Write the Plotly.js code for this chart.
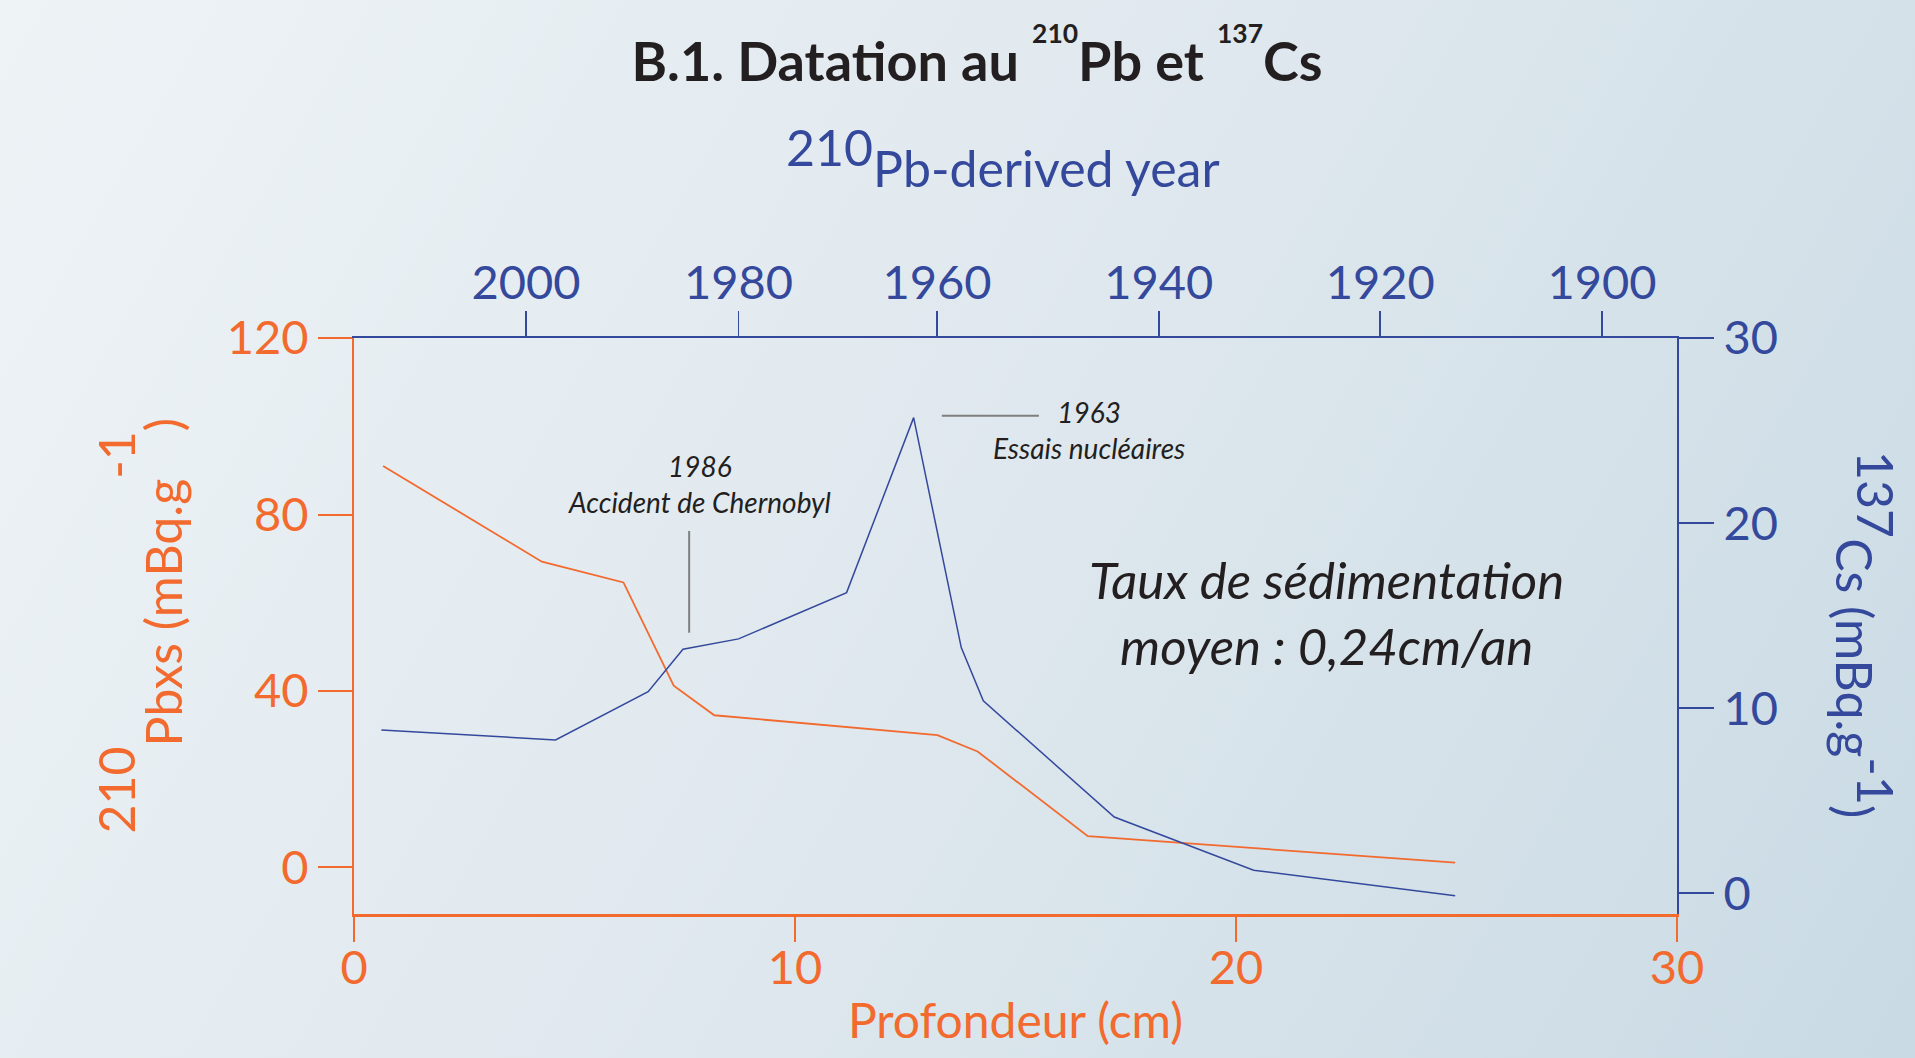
<!DOCTYPE html>
<html>
<head>
<meta charset="utf-8">
<script src="https://cdn.plot.ly/plotly-3.0.1.min.js"></script>
<style>
  html, body { margin: 0; padding: 0; }
  body {
    width: 1915px; height: 1058px; overflow: hidden;
    background: linear-gradient(120deg, #EEF3F6 0%, #DFE8EE 50%, #C9DAE4 100%);
  }
  #chart { width: 1915px; height: 1058px; }
</style>
</head>
<body>
<div id="chart"></div>
<script>
// ---- data ----
// 210Pb excess activity vs depth
const depthPb = [0.66, 4.26, 6.11, 7.25, 8.17, 13.23, 14.14, 16.64, 24.97];
const pb210   = [91.0, 69.3, 64.6, 41.2, 34.5, 30.0, 26.3, 7.1, 1.1];

// 137Cs activity vs depth
const depthCs = [0.62, 4.57, 6.67, 7.46, 8.72, 11.17, 12.69, 13.77, 14.27, 17.24, 20.40, 24.97];
const cs137   = [8.83, 8.29, 10.90, 13.19, 13.75, 16.25, 25.70, 13.28, 10.40, 4.13, 1.25, -0.12];

// 210Pb-derived years (top axis) and their depth positions
const yearTicks = ['2000', '1980', '1960', '1940', '1920', '1900'];
const yearDepth = [3.90, 8.72, 13.22, 18.25, 23.27, 28.30];

// bottom / left / right tick values
const depthTicks = [0, 10, 20, 30];
const pbTicks = [0, 40, 80, 120];
const csTicks = [0, 10, 20, 30];

// event markers
const chernobylDepth = 7.60;
const bombLineDepth = [13.33, 15.53];

const ORANGE = '#F26A2E';
const BLUE = '#34489C';
const DARK = '#231F20';
const FONT = 'Lato, "Open Sans", sans-serif';

const bigSup = (t) => '<span style="font-size:111px"><sup><span style="font-size:50px">' + t + '</span></sup></span>';
const sameSup = (t) => '<sup><span style="font-size:50px">' + t + '</span></sup>';

const traces = [
  {
    x: depthPb, y: pb210, xaxis: 'x', yaxis: 'y', type: 'scatter', mode: 'lines',
    line: { color: ORANGE, width: 1.8 }, name: '210Pbxs', hoverinfo: 'skip'
  },
  {
    x: depthCs, y: cs137, xaxis: 'x', yaxis: 'y2', type: 'scatter', mode: 'lines',
    line: { color: BLUE, width: 1.5 }, name: '137Cs', hoverinfo: 'skip'
  },
  {
    // empty trace that only registers the top (year) axis
    x: [], y: [], xaxis: 'x2', yaxis: 'y', type: 'scatter', mode: 'lines',
    showlegend: false, hoverinfo: 'skip'
  }
];

const layout = {
  width: 1915, height: 1058, autosize: false,
  paper_bgcolor: 'rgba(0,0,0,0)', plot_bgcolor: 'rgba(0,0,0,0)',
  margin: { l: 354, r: 238, t: 338, b: 144, pad: 0 },
  showlegend: false,
  hovermode: false,
  font: { family: FONT },
  title: {
    text: 'B.1. Datation au <sup><sup>210</sup></sup>Pb et <sup><sup>137</sup></sup>Cs',
    font: { family: FONT, size: 54, color: DARK, weight: 'bold' },
    x: 0.5102, xref: 'container', xanchor: 'center',
    y: 0.941, yref: 'container', yanchor: 'middle'
  },
  xaxis: {
    range: [0, 30], domain: [0, 1], anchor: 'y',
    showline: true, linecolor: ORANGE, linewidth: 2.5,
    ticks: 'outside', ticklen: 25, tickwidth: 1.5, tickcolor: ORANGE,
    tickmode: 'array', tickvals: depthTicks,
    tickfont: { family: FONT, size: 47, color: ORANGE },
    ticklabelstandoff: -14,
    showgrid: false, zeroline: false,
    title: { text: 'Profondeur (cm)', font: { family: FONT, size: 48, color: ORANGE }, standoff: 12 }
  },
  xaxis2: {
    range: [0, 30], overlaying: 'x', anchor: 'y', side: 'top',
    showline: true, linecolor: BLUE, linewidth: 2,
    ticks: 'outside', ticklen: 25, tickwidth: 1.5, tickcolor: BLUE,
    tickmode: 'array', tickvals: yearDepth, ticktext: yearTicks,
    tickfont: { family: FONT, size: 47, color: BLUE },
    ticklabelstandoff: -7,
    showgrid: false, zeroline: false
  },
  yaxis: {
    range: [-10.54, 120], domain: [0, 1], anchor: 'x',
    showline: true, linecolor: ORANGE, linewidth: 2,
    ticks: 'outside', ticklen: 34, tickwidth: 2, tickcolor: ORANGE,
    tickmode: 'array', tickvals: pbTicks,
    tickfont: { family: FONT, size: 47, color: ORANGE },
    showgrid: false, zeroline: false
  },
  yaxis2: {
    range: [-1.11, 30], overlaying: 'y', anchor: 'x', side: 'right',
    showline: true, linecolor: BLUE, linewidth: 2,
    ticks: 'outside', ticklen: 35, tickwidth: 2, tickcolor: BLUE,
    tickmode: 'array', tickvals: csTicks,
    tickfont: { family: FONT, size: 47, color: BLUE },
    showgrid: false, zeroline: false
  },
  shapes: [
    { type: 'line', xref: 'x', yref: 'paper', x0: chernobylDepth, x1: chernobylDepth,
      y0: 0.4884, y1: 0.665, line: { color: '#7F7F7F', width: 2 } },
    { type: 'line', xref: 'x', yref: 'paper', x0: bombLineDepth[0], x1: bombLineDepth[1],
      y0: 0.8651, y1: 0.8651, line: { color: '#7F7F7F', width: 2 } }
  ],
  annotations: [
    // top axis title
    { xref: 'paper', yref: 'paper', x: 0.4902, y: 1.3142, xanchor: 'center', yanchor: 'middle',
      showarrow: false,
      text: sameSup('210') + 'Pb-derived year',
      font: { family: FONT, size: 50, color: BLUE } },
    // left axis title
    { xref: 'paper', yref: 'paper', x: -0.1618, y: 0.5009, xanchor: 'center', yanchor: 'middle',
      textangle: -90, showarrow: false,
      text: bigSup('210') + 'Pbxs (mBq.g' + bigSup('-1') + ')',
      font: { family: FONT, size: 50, color: ORANGE } },
    // right axis title
    { xref: 'paper', yref: 'paper', x: 1.1420, y: 0.4844, xanchor: 'center', yanchor: 'middle',
      textangle: 90, showarrow: false,
      text: sameSup('137') + 'Cs (mBq.g' + sameSup('-1') + ')',
      font: { family: FONT, size: 50, color: BLUE } },
    { xref: 'paper', yref: 'paper', x: 0.2615, y: 0.7473, xanchor: 'center', yanchor: 'middle',
      showarrow: false, align: 'center',
      text: '<i>1986<br>Accident de Chernobyl</i>',
      font: { family: FONT, size: 28, color: DARK } },
    { xref: 'paper', yref: 'paper', x: 0.5556, y: 0.8403, xanchor: 'center', yanchor: 'middle',
      showarrow: false, align: 'center',
      text: '<i>1963<br>Essais nucléaires</i>',
      font: { family: FONT, size: 28, color: DARK } },
    { xref: 'paper', yref: 'paper', x: 0.7354, y: 0.5243, xanchor: 'center', yanchor: 'middle',
      showarrow: false, align: 'center',
      text: '<i>Taux de sédimentation<br>moyen : 0,24cm/an</i>',
      font: { family: FONT, size: 51, color: DARK } }
  ]
};

Plotly.newPlot('chart', traces, layout, { displayModeBar: false, staticPlot: true });
</script>
</body>
</html>
